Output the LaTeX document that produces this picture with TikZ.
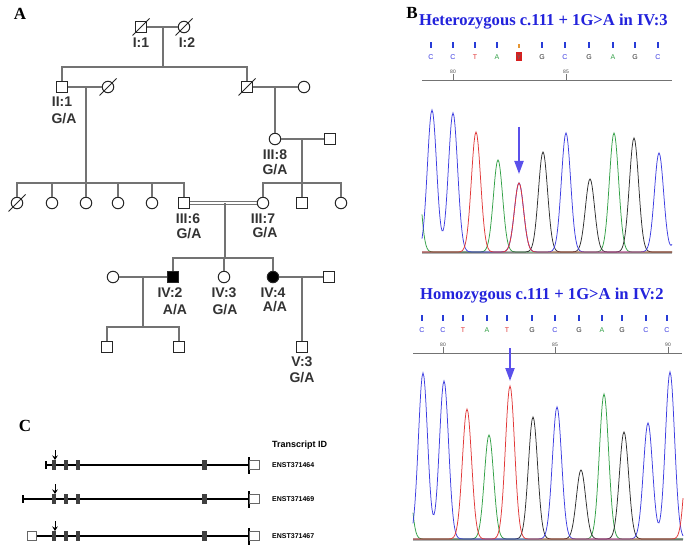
\documentclass[tikz,border=0pt]{standalone}
\usepackage{fontspec}
\setmainfont{Liberation Serif}
\setsansfont{Liberation Sans}
\usetikzlibrary{arrows.meta}
\usetikzlibrary{calc}

\definecolor{seq_blue}{RGB}{60,60,225}
\definecolor{seq_red}{RGB}{225,55,55}
\definecolor{seq_green}{RGB}{50,160,70}
\definecolor{seq_black}{RGB}{45,45,45}
\definecolor{title_blue}{RGB}{35,35,220}
\definecolor{arrow_blue}{RGB}{90,80,235}
\definecolor{tick_blue}{RGB}{40,60,215}
\definecolor{tick_orange}{RGB}{230,150,50}
\definecolor{y_red}{RGB}{215,30,30}

\begin{document}
\begin{tikzpicture}[x=1pt, y=-1pt,
        declare function={pk(\t,\c,\h)=\h*exp(max(-((\t-\c)/6.5)^2,-9));},
        male_style/.style={rectangle, draw=black!85, line width=1pt, minimum size=11pt, inner sep=0pt, fill=white},
        female_style/.style={circle, draw=black!85, line width=1pt, minimum size=11.5pt, inner sep=0pt, fill=white},
        affected_style/.style={fill=black},
        line_style/.style={draw=black!55, line width=1.1pt},
        dead_style/.style={draw=black!85, line width=1pt},
        id_style/.style={font=\sffamily\bfseries\fontsize{14}{14}\selectfont, text=black!80, inner sep=0pt},
        panel_style/.style={font=\bfseries\fontsize{17}{17}\selectfont, inner sep=0pt},
        title_style/.style={font=\bfseries\fontsize{16.6}{16.6}\selectfont, text=title_blue, inner sep=0pt, anchor=west},
        tick_style/.style={rectangle, fill=tick_blue, minimum width=2.2pt, minimum height=6pt, inner sep=0pt},
        base_style/.style={font=\sffamily\fontsize{7}{7}\selectfont, inner sep=0pt},
        num_style/.style={font=\sffamily\fontsize{5}{5}\selectfont, text=black!70, inner sep=0.5pt},
        axis_style/.style={draw=black!55, line width=0.9pt},
        base_line/.style={draw=black!30, line width=1.3pt},
        trace_style/.style={line width=0.75pt},
        mut_arrow/.style={draw=arrow_blue, line width=2pt, -{Triangle[length=13pt, width=9pt]}},
        tr_line/.style={draw=black, line width=1.1pt},
        exon_style/.style={rectangle, fill=black!75, minimum width=3.4pt, minimum height=10pt, inner sep=0pt},
        start_tick/.style={rectangle, fill=black, minimum width=1.6pt, minimum height=8pt, inner sep=0pt},
        end_tick/.style={rectangle, fill=black, minimum width=1.2pt, minimum height=17pt, inner sep=0pt},
        utr_box/.style={rectangle, draw=black!60, fill=white, line width=0.7pt, minimum width=10pt, minimum height=9pt, inner sep=0pt},
        mark_arrow/.style={draw=black, line width=1pt, -{Stealth[length=4.5pt, width=5.5pt]}},
        tid_style/.style={font=\sffamily\bfseries\fontsize{7}{7}\selectfont, inner sep=0pt, anchor=west}]

        \fill [white] (0,0) rectangle (690,553);
        \useasboundingbox (0,0) rectangle (690,553);

        \node [panel_style] (pa) at (20,14) {A};
        \node [panel_style] (pb) at (412,13) {B};
        \node [panel_style] (pc) at (25,426) {C};

        \node [male_style] (i1) at (141,27) {};
        \node [female_style] (i2) at (184,27) {};
        \node [male_style] (ii1) at (62,87) {};
        \node [female_style] (ii1w) at (108,87) {};
        \node [male_style] (ii2) at (247,87) {};
        \node [female_style] (ii2w) at (304,87) {};
        \node [female_style] (iii8) at (275,139) {};
        \node [male_style] (iii8h) at (330,139) {};
        \node [female_style] (iii1) at (17,203) {};
        \node [female_style] (iii2) at (52,203) {};
        \node [female_style] (iii3) at (86,203) {};
        \node [female_style] (iii4) at (118,203) {};
        \node [female_style] (iii5) at (152,203) {};
        \node [male_style] (iii6) at (184,203) {};
        \node [female_style] (iii7) at (263,203) {};
        \node [male_style] (iii9) at (302,203) {};
        \node [female_style] (iii10) at (341,203) {};
        \node [female_style] (iv1) at (113,277) {};
        \node [male_style, affected_style] (iv2) at (173,277) {};
        \node [female_style] (iv3) at (224,277) {};
        \node [female_style, affected_style] (iv4) at (273,277) {};
        \node [male_style] (iv4h) at (329,277) {};
        \node [male_style] (v1) at (107,347) {};
        \node [male_style] (v2) at (179,347) {};
        \node [male_style] (v3) at (302,347) {};

        \coordinate (m1) at (163,27);
        \coordinate (s1) at (163,67);
        \coordinate (m2) at (86,87);
        \coordinate (s2) at (86,183);
        \coordinate (m3) at (275,87);
        \coordinate (m4) at (302,139);
        \coordinate (s4) at (302,183);
        \coordinate (m5) at (225,203);
        \coordinate (s5) at (225,258);
        \coordinate (m6) at (143,277);
        \coordinate (s6) at (143,327);
        \coordinate (m7) at (302,277);

        \draw [line_style] (i1) -- (i2);
        \draw [line_style] (m1) -- (s1);
        \draw [line_style] (s1) -| (ii1.north);
        \draw [line_style] (s1) -| (ii2.north);
        \draw [line_style] (ii1) -- (ii1w);
        \draw [line_style] (m2) -- (s2);
        \foreach \c in {iii1,iii2,iii3,iii4,iii5,iii6}
            \draw [line_style] (s2) -| (\c.north);
        \draw [line_style] (ii2) -- (ii2w);
        \draw [line_style] (m3) -- (iii8);
        \draw [line_style] (iii8) -- (iii8h);
        \draw [line_style] (m4) -- (s4);
        \foreach \c in {iii7,iii9,iii10}
            \draw [line_style] (s4) -| (\c.north);
        \draw [line_style, line width=0.9pt, transform canvas={yshift=1.3pt}] (iii6.east) -- (iii7.west);
        \draw [line_style, line width=0.9pt, transform canvas={yshift=-1.3pt}] (iii6.east) -- (iii7.west);
        \draw [line_style] (m5) -- (s5);
        \foreach \c in {iv2,iv3,iv4}
            \draw [line_style] (s5) -| (\c.north);
        \draw [line_style] (iv1) -- (iv2);
        \draw [line_style] (m6) -- (s6);
        \foreach \c in {v1,v2}
            \draw [line_style] (s6) -| (\c.north);
        \draw [line_style] (iv4) -- (iv4h);
        \draw [line_style] (m7) -- (v3);

        \foreach \d in {i1,i2,ii1w,ii2,iii1}
            \draw [dead_style] ($(\d)+(-8.5,8.5)$) -- ($(\d)+(8.5,-8.5)$);

        \node [id_style] (lab_i1) at (141,43) {I:1};
        \node [id_style] (lab_i2) at (187,43) {I:2};
        \node [id_style] (lab_ii1) at (62,102) {II:1};
        \node [id_style] (gt_ii1) at (64,119) {G/A};
        \node [id_style] (lab_iii8) at (275,155) {III:8};
        \node [id_style] (gt_iii8) at (275,170) {G/A};
        \node [id_style] (lab_iii6) at (188,219) {III:6};
        \node [id_style] (gt_iii6) at (189,234) {G/A};
        \node [id_style] (lab_iii7) at (263,219) {III:7};
        \node [id_style] (gt_iii7) at (265,233) {G/A};
        \node [id_style] (lab_iv2) at (170,293) {IV:2};
        \node [id_style] (gt_iv2) at (175,310) {A/A};
        \node [id_style] (lab_iv3) at (224,293) {IV:3};
        \node [id_style] (gt_iv3) at (225,310) {G/A};
        \node [id_style] (lab_iv4) at (273,293) {IV:4};
        \node [id_style] (gt_iv4) at (275,307) {A/A};
        \node [id_style] (lab_v3) at (302,362) {V:3};
        \node [id_style] (gt_v3) at (302,378) {G/A};

        \node [title_style] (het_title) at (419,22) {Heterozygous c.111 + 1G>A in IV:3};

        \foreach \x/\b/\c [count=\i] in {431/C/seq_blue, 453/C/seq_blue, 475/T/seq_red, 497/A/seq_green,
                542/G/seq_black, 565/C/seq_blue, 589/G/seq_black, 613/A/seq_green, 635/G/seq_black, 658/C/seq_blue}
        {
            \node [tick_style] (ta\i) at (\x,45) {};
            \node [base_style, text=\c] (ba\i) at (\x,57) {\b};
        }
        \node [tick_style, fill=tick_orange, minimum height=4pt] (ta_y) at (519,46) {};
        \node [base_style, fill=y_red, text=black!60, minimum width=6pt, minimum height=9pt] (ba_y) at (519,57) {Y};

        \coordinate (ax1s) at (422,80);
        \coordinate (ax1e) at (672,80);
        \draw [axis_style] (ax1s) -- (ax1e);
        \node [num_style] (na80) at (453,72) {80};
        \node [num_style] (na85) at (566,72) {85};
        \foreach \n in {na80,na85}
            \draw [axis_style, line width=0.6pt] (\n.south) -- (\n.south |- ax1s);

        \coordinate (bl1s) at (422,253);
        \coordinate (bl1e) at (672,253);
        \draw [base_line] (bl1s) -- (bl1e);

        \draw [trace_style, seq_green] plot [domain=422:672, samples=251]
            (\x, {252-pk(\x,415,120)-pk(\x,498,92)-pk(\x,614,119)});
        \draw [trace_style, seq_black] plot [domain=422:672, samples=251]
            (\x, {252-pk(\x,543,100)-pk(\x,590,73)-pk(\x,634,114)});
        \draw [trace_style, seq_blue] plot [domain=422:672, samples=251]
            (\x, {252-pk(\x,432,142)-pk(\x,453,139)-pk(\x,519,69)-pk(\x,566,119)-pk(\x,659,99)-pk(\x,683,100)});
        \draw [trace_style, seq_red] plot [domain=422:672, samples=251]
            (\x, {252-pk(\x,476,120)-pk(\x,519,69)});

        \coordinate (ar1s) at (519,127);
        \coordinate (ar1e) at (519,174);
        \draw [mut_arrow] (ar1s) -- (ar1e);

        \node [title_style] (hom_title) at (420,296) {Homozygous c.111 + 1G>A in IV:2};

        \foreach \x/\b/\c [count=\i] in {422/C/seq_blue, 443/C/seq_blue, 463/T/seq_red, 487/A/seq_green, 507/T/seq_red,
                532/G/seq_black, 555/C/seq_blue, 579/G/seq_black, 602/A/seq_green, 622/G/seq_black, 646/C/seq_blue, 667/C/seq_blue}
        {
            \node [tick_style] (tb\i) at (\x,318) {};
            \node [base_style, text=\c] (bb\i) at (\x,330) {\b};
        }

        \coordinate (ax2s) at (413,353);
        \coordinate (ax2e) at (682,353);
        \draw [axis_style] (ax2s) -- (ax2e);
        \node [num_style] (nb80) at (443,345) {80};
        \node [num_style] (nb85) at (555,345) {85};
        \node [num_style] (nb90) at (668,345) {90};
        \foreach \n in {nb80,nb85,nb90}
            \draw [axis_style, line width=0.6pt] (\n.south) -- (\n.south |- ax2s);

        \coordinate (bl2s) at (413,540);
        \coordinate (bl2e) at (683,540);
        \draw [base_line] (bl2s) -- (bl2e);

        \draw [trace_style, seq_green] plot [domain=413:683, samples=271]
            (\x, {539-pk(\x,405,120)-pk(\x,489,104)-pk(\x,604,145)});
        \draw [trace_style, seq_black] plot [domain=413:683, samples=271]
            (\x, {539-pk(\x,533,122)-pk(\x,581,69)-pk(\x,624,107)});
        \draw [trace_style, seq_blue] plot [domain=413:683, samples=271]
            (\x, {539-pk(\x,423,166)-pk(\x,444,158)-pk(\x,557,132)-pk(\x,648,116)-pk(\x,670,167)});
        \draw [trace_style, seq_red] plot [domain=413:683, samples=271]
            (\x, {539-pk(\x,467,130)-pk(\x,510,153)-pk(\x,690,130)});

        \coordinate (ar2s) at (510,348);
        \coordinate (ar2e) at (510,381);
        \draw [mut_arrow] (ar2s) -- (ar2e);

        \node [tid_style, font=\sffamily\bfseries\fontsize{9}{9}\selectfont] (tid_head) at (272,445) {Transcript ID};

        \foreach \rw/\y/\xs/\id in {a/465/46/ENST371464, b/499/23/ENST371469, c/536/36/ENST371467}
        {
            \coordinate (\rw_s) at (\xs,\y);
            \node [end_tick] (\rw_e) at (249,\y) {};
            \draw [tr_line] (\rw_s) -- (\rw_e.center);
            \node [utr_box, anchor=west] (\rw_u) at (\rw_e.center) {};
            \foreach \x in {54,66,78}
                \node [exon_style] (\rw_x\x) at (\x,\y) {};
            \node [exon_style, minimum width=5pt] (\rw_x204) at (204,\y) {};
            \coordinate (\rw_ms) at (55,{\y-15});
            \coordinate (\rw_me) at (55,{\y-5});
            \draw [mark_arrow] (\rw_ms) -- (\rw_me);
            \node [tid_style] (tid_\rw) at (272,\y) {\id};
        }
        \node [start_tick] (a_t) at (46,465) {};
        \node [start_tick] (b_t) at (23,499) {};
        \node [utr_box, minimum width=9pt] (c_u0) at (31.5,536) {};

\end{tikzpicture}
\end{document}
